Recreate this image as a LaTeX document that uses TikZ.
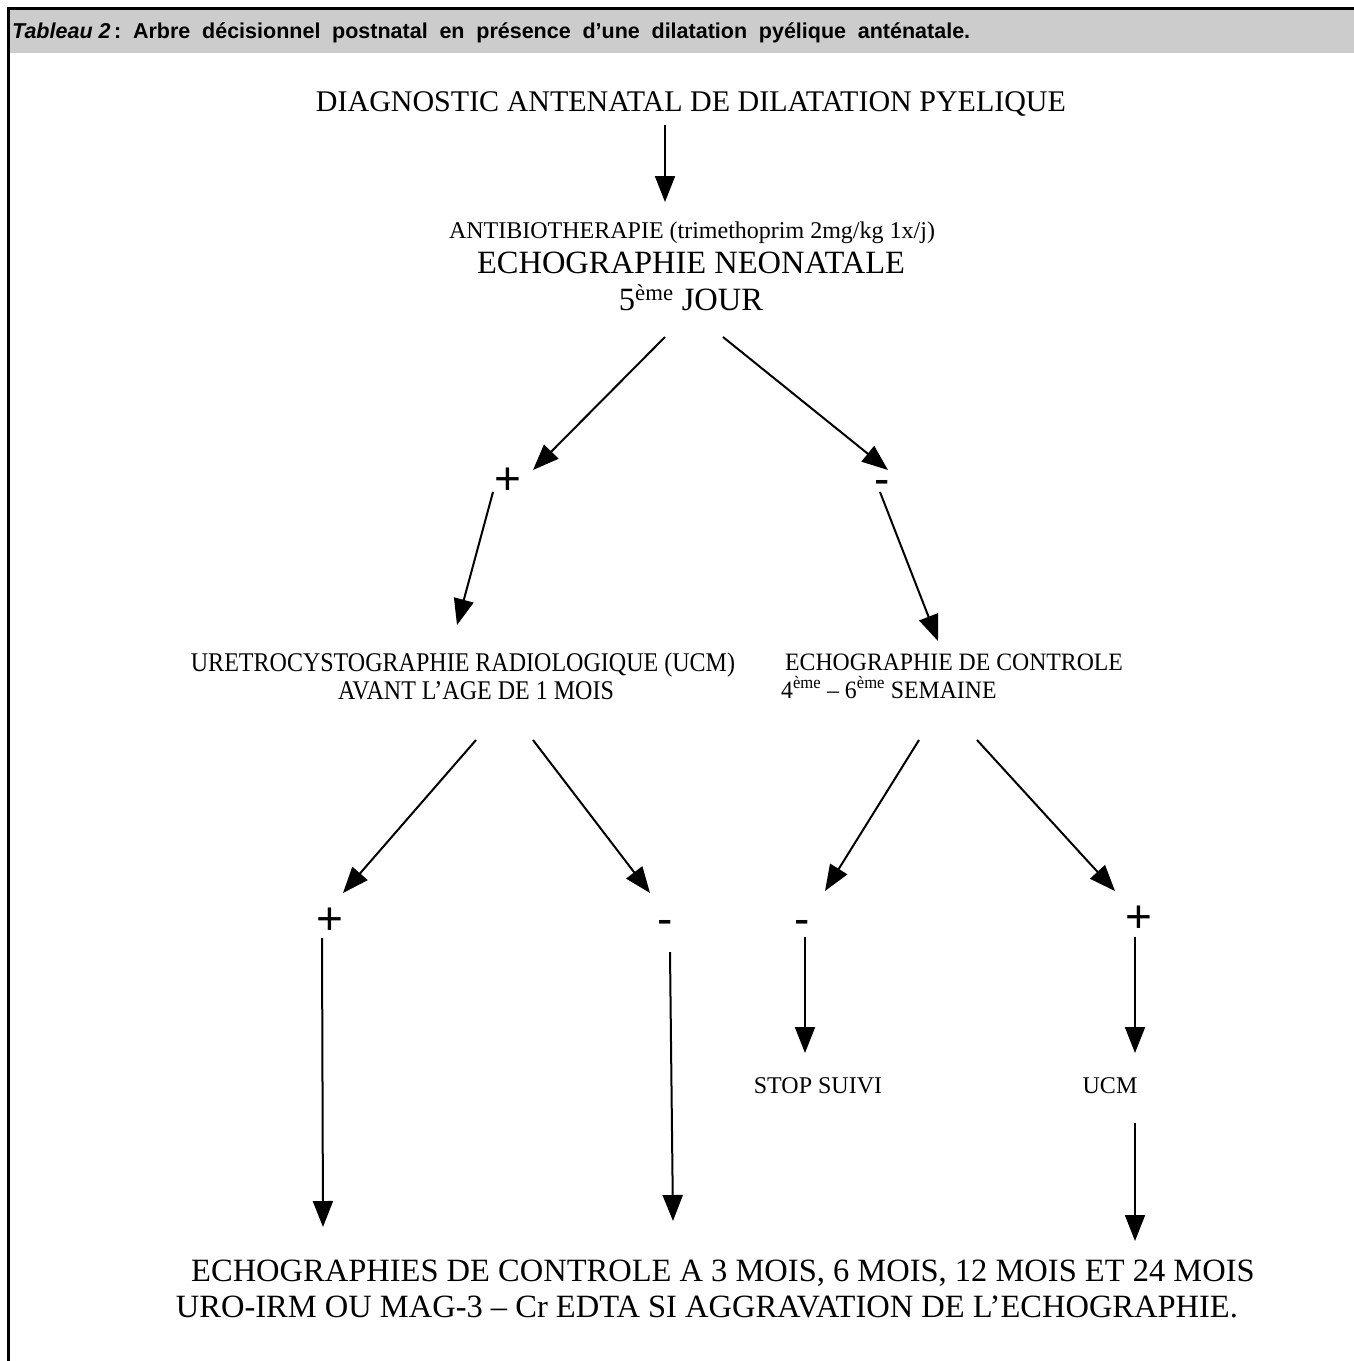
\documentclass[tikz,border=0pt]{standalone}
\usepackage{fontspec}
\setmainfont{Liberation Serif}
\newfontfamily\hdrfont{Liberation Sans}
\usetikzlibrary{arrows.meta}
\begin{document}
\begin{tikzpicture}[x=1pt,y=-1pt,
  arr/.style={line width=2pt,-{Triangle[length=26pt,width=20pt]}},
  txt/.style={anchor=base,inner sep=0pt},
  sign/.style={anchor=base,inner sep=0pt,font=\hdrfont\fontsize{46}{50}\selectfont},
  big/.style={font=\fontsize{30}{33}\selectfont},
  mid/.style={font=\fontsize{24}{28}\selectfont},
  lrg/.style={font=\fontsize{32.5}{35}\selectfont},
  bot/.style={font=\fontsize{32.5}{35}\selectfont}]
\useasboundingbox (0,0) rectangle (1354,1361);
\fill[black!20] (10,10) rectangle (1354,53);
\draw[line width=3pt] (1354,8.5) -- (8.5,8.5) -- (8.5,1361);
\node[anchor=base west,inner sep=0pt,font=\hdrfont\bfseries\fontsize{21.5}{24}\selectfont] (hdr) at (12,38)
  {\makebox[958pt][s]{\textit{Tableau\hspace{0.28em}2}\,:\ Arbre décisionnel postnatal en présence d’une dilatation pyélique anténatale.}};

\node[txt,big] (diag) at (691,111) {DIAGNOSTIC ANTENATAL DE DILATATION PYELIQUE};
\node[txt,mid] (anti) at (692,238) {ANTIBIOTHERAPIE (trimethoprim 2mg/kg 1x/j)};
\node[txt,lrg] (echo) at (691,273) {ECHOGRAPHIE NEONATALE};
\node[txt,lrg] (jour) at (691,310) {5\textsuperscript{ème} JOUR};

\node[sign] (p1) at (508,494) {+};
\node[sign] (m1) at (882,494) {-};

\node[txt,font=\fontsize{27}{30}\selectfont] (ucm1) at (463,671) {\scalebox{0.89}[1]{URETROCYSTOGRAPHIE RADIOLOGIQUE (UCM)}};
\node[txt,font=\fontsize{27}{30}\selectfont] (ucm2) at (476,699) {\scalebox{0.89}[1]{AVANT L’AGE DE 1 MOIS}};
\node[txt,font=\fontsize{25}{28}\selectfont,anchor=base west] (ctl1) at (785,670) {\scalebox{0.95}[1]{ECHOGRAPHIE DE CONTROLE}};
\node[txt,font=\fontsize{25}{28}\selectfont,anchor=base west] (ctl2) at (781,698) {\scalebox{0.95}[1]{4\textsuperscript{ème} – 6\textsuperscript{ème} SEMAINE}};

\node[sign] (p2) at (330,934) {+};
\node[sign] (m2) at (665,934) {-};
\node[sign] (m3) at (802,934) {-};
\node[sign] (p3) at (1139,932) {+};

\node[txt,mid] (stop) at (818,1093) {STOP SUIVI};
\node[txt,mid] (ucm) at (1110,1093) {UCM};

\node[txt,bot] (fin1) at (723,1281) {ECHOGRAPHIES DE CONTROLE A 3 MOIS, 6 MOIS, 12 MOIS ET 24 MOIS};
\node[txt,bot] (fin2) at (707,1317) {URO-IRM OU MAG-3 – Cr EDTA SI AGGRAVATION DE L’ECHOGRAPHIE.};

\coordinate (a0s) at (665,125); \coordinate (a0e) at (665,202);
\coordinate (a1s) at (665,337); \coordinate (a1e) at (533,470);
\coordinate (a2s) at (723,337); \coordinate (a2e) at (888,470);
\coordinate (a3s) at (493,492); \coordinate (a3e) at (457,625);
\coordinate (a4s) at (880,492); \coordinate (a4e) at (938,641);
\coordinate (b1s) at (476,740); \coordinate (b1e) at (343,893);
\coordinate (b2s) at (533,740); \coordinate (b2e) at (650,893);
\coordinate (b3s) at (919,740); \coordinate (b3e) at (825,891);
\coordinate (b4s) at (977,740); \coordinate (b4e) at (1115,891);
\coordinate (c1s) at (322,938); \coordinate (c1e) at (323,1227);
\coordinate (c2s) at (670,952); \coordinate (c2e) at (673,1221);
\coordinate (c3s) at (805,937); \coordinate (c3e) at (805,1053);
\coordinate (c4s) at (1135,937); \coordinate (c4e) at (1135,1053);
\coordinate (c5s) at (1135,1123); \coordinate (c5e) at (1135,1241);

\foreach \a in {a0,a1,a2,a3,a4,b1,b2,b3,b4,c1,c2,c3,c4,c5}
  \draw[arr] (\a s) -- (\a e);
\end{tikzpicture}
\end{document}
